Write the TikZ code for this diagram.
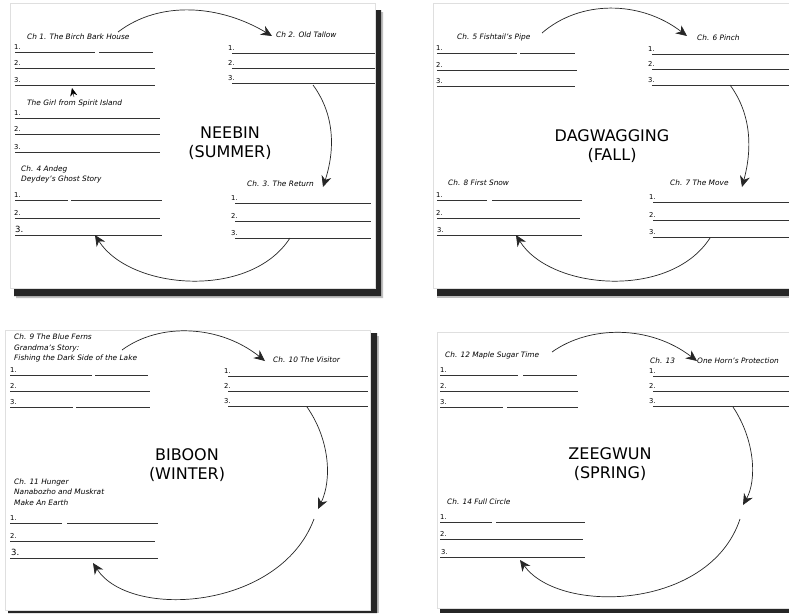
\documentclass[tikz,border=0pt]{standalone}
\usepackage{fontspec}
\setmainfont{DejaVu Sans}
\usepackage{tikz}
\usetikzlibrary{arrows.meta}

\begin{document}
\begin{tikzpicture}[x=1pt,y=-1pt,
  page/.style={fill=white,draw=gray!25,line width=0.4pt},
  pshadow/.style={fill=black!85},
  pfade/.style={fill=black!25},
  ans/.style={line width=0.9pt,black!80},
  num/.style={font=\fontsize{6.8}{6.8}\selectfont,inner sep=0pt,anchor=south west},
  chap/.style={font=\fontsize{7.4}{10.5}\selectfont\itshape,inner sep=0pt,anchor=west,align=left},
  season/.style={font=\fontsize{16}{19}\selectfont,align=center,inner sep=0pt},
  cyc/.style={line width=0.7pt,black!85,-{Stealth[length=11pt,width=10pt]}},
  tip/.style={-{Stealth[length=8pt,width=7pt]}}]
\useasboundingbox[fill=white] (0,0) rectangle (789,613);

% pages and shadows
\fill[pfade] (381,12) rectangle (383,298) (16,296) rectangle (383,298);
\fill[pshadow] (375,10) rectangle (381,296) (14,288) rectangle (381,296);
\draw[page] (10,3) rectangle (375,288);
\fill[pfade] (437,296) rectangle (789,298);
\fill[pshadow] (437,288) rectangle (789,296);
\draw[page] (433,3) rectangle (789,288);
\fill[pfade] (377,336) rectangle (379,613);
\fill[pshadow] (370,333) rectangle (377,613) (8,610) rectangle (377,613);
\draw[page] (5,330) rectangle (370,610);
\fill[pshadow] (440,608) rectangle (789,613);
\draw[page] (437,332) rectangle (789,608);

% neebin
\node[chap] (c1) at (27,37) {Ch 1. The Birch Bark House};
\node[num] (n1a) at (14,50) {1.};
\node[num] (n1b) at (14,66) {2.};
\node[num] (n1c) at (14,83) {3.};
\draw[ans] (15,52) -- (95,52) (99,52) -- (153,52) (15,68) -- (155,68) (15,85) -- (155,85);
\node[chap] (c1x) at (27,103) {The Girl from Spirit Island};
\node[num] (n2a) at (14,116) {1.};
\node[num] (n2b) at (14,132) {2.};
\node[num] (n2c) at (14,150) {3.};
\draw[ans] (15,118) -- (160,118) (15,134) -- (160,134) (15,152) -- (160,152);
\coordinate (g0) at (74,97);
\coordinate (g1) at (72,88);
\draw[tip] (g0) -- (g1);
\node[chap] (c4) at (21,174.5) {Ch. 4 Andeg\\Deydey's Ghost Story};
\node[num] (n4a) at (14,198) {1.};
\node[num] (n4b) at (14,216) {2.};
\node[num,font=\fontsize{8.5}{8.5}\selectfont] (n4c) at (15,233) {3.};
\draw[ans] (15,200) -- (68,200) (71,200) -- (162,200) (15,218) -- (160,218) (15,235) -- (162,235);
\node[season] (sum) at (230,143) {NEEBIN\\(SUMMER)};
\node[chap] (c2) at (276,35) {Ch 2. Old Tallow};
\node[num] (n5a) at (228,51) {1.};
\node[num] (n5b) at (228,66) {2.};
\node[num] (n5c) at (228,81) {3.};
\draw[ans] (232,53) -- (375,53) (232,68) -- (375,68) (232,83) -- (375,83);
\node[chap] (c3) at (247,184) {Ch. 3. The Return};
\node[num] (n6a) at (231,201) {1.};
\node[num] (n6b) at (231,219) {2.};
\node[num] (n6c) at (231,236) {3.};
\draw[ans] (235,203) -- (371,203) (235,221) -- (371,221) (235,238) -- (371,238);
\coordinate (a1) at (118,32);
\coordinate (a2) at (272,36);
\coordinate (a3) at (313,85);
\coordinate (a4) at (323,187);
\coordinate (a5) at (290,238);
\coordinate (a6) at (95,235);
\draw[cyc] (a1) .. controls (160,0) and (220,5) .. (a2);
\draw[cyc] (a3) .. controls (335,115) and (335,150) .. (a4);
\draw[cyc] (a5) .. controls (250,300) and (130,290) .. (a6);

% dagwagging
\node[chap] (c5) at (457,37) {Ch. 5 Fishtail's Pipe};
\node[num] (n7a) at (436,51) {1.};
\node[num] (n7b) at (436,68) {2.};
\node[num] (n7c) at (436,84) {3.};
\draw[ans] (437,53) -- (517,53) (520,53) -- (575,53) (437,70) -- (577,70) (437,86) -- (575,86);
\node[chap] (c6) at (697,38) {Ch. 6 Pinch};
\node[num] (n8a) at (648,52) {1.};
\node[num] (n8b) at (648,67) {2.};
\node[num] (n8c) at (648,83) {3.};
\draw[ans] (652,54) -- (789,54) (652,69) -- (789,69) (652,85) -- (789,85);
\node[season] (fal) at (612,146) {DAGWAGGING\\(FALL)};
\node[chap] (c8) at (448,183) {Ch. 8 First Snow};
\node[num] (n9a) at (436,198) {1.};
\node[num] (n9b) at (436,216) {2.};
\node[num] (n9c) at (437,233) {3.};
\draw[ans] (437,200) -- (487,200) (492,200) -- (582,200) (437,218) -- (580,218) (437,235) -- (582,235);
\node[chap] (c7) at (670,183) {Ch. 7 The Move};
\node[num] (n10a) at (649,200) {1.};
\node[num] (n10b) at (649,218) {2.};
\node[num] (n10c) at (649,235) {3.};
\draw[ans] (653,202) -- (789,202) (653,220) -- (789,220) (653,237) -- (789,237);
\coordinate (b1) at (542,33);
\coordinate (b2) at (687,36);
\coordinate (b3) at (730,85);
\coordinate (b4) at (742,187);
\coordinate (b5) at (710,238);
\coordinate (b6) at (516,235);
\draw[cyc] (b1) .. controls (580,0) and (640,0) .. (b2);
\draw[cyc] (b3) .. controls (752,115) and (752,150) .. (b4);
\draw[cyc] (b5) .. controls (670,300) and (550,290) .. (b6);

% biboon
\node[chap] (c9) at (14,348) {Ch. 9 The Blue Ferns\\Grandma's Story:\\Fishing the Dark Side of the Lake};
\node[num] (n11a) at (10,373) {1.};
\node[num] (n11b) at (10,389) {2.};
\node[num] (n11c) at (10,405) {3.};
\draw[ans] (10,375) -- (92,375) (95,375) -- (148,375) (10,391) -- (150,391) (10,407) -- (73,407) (76,407) -- (150,407);
\node[chap] (c10) at (273,360) {Ch. 10 The Visitor};
\node[num] (n12a) at (224,374) {1.};
\node[num] (n12b) at (224,389) {2.};
\node[num] (n12c) at (224,404) {3.};
\draw[ans] (228,376) -- (368,376) (228,391) -- (368,391) (228,406) -- (368,406);
\node[season] (win) at (187,465) {BIBOON\\(WINTER)};
\node[chap] (c11) at (14,492) {Ch. 11 Hunger\\Nanabozho and Muskrat\\Make An Earth};
\node[num] (n13a) at (10,521) {1.};
\node[num] (n13b) at (10,539) {2.};
\node[num,font=\fontsize{8.5}{8.5}\selectfont] (n13c) at (11,556) {3.};
\draw[ans] (10,523) -- (62,523) (67,523) -- (158,523) (10,541) -- (155,541) (10,558) -- (158,558);
\coordinate (d1) at (122,350);
\coordinate (d2) at (265,361);
\coordinate (d3) at (307,407);
\coordinate (d4) at (318,509);
\coordinate (d5) at (314,519);
\coordinate (d6) at (93,563);
\draw[cyc] (d1) .. controls (160,322) and (220,325) .. (d2);
\draw[cyc] (d3) .. controls (330,440) and (332,480) .. (d4);
\draw[cyc] (d5) .. controls (280,610) and (130,620) .. (d6);

% zeegwun
\node[chap] (c12) at (445,355) {Ch. 12 Maple Sugar Time};
\node[num] (n14a) at (440,373) {1.};
\node[num] (n14b) at (440,389) {2.};
\node[num] (n14c) at (440,405) {3.};
\draw[ans] (440,375) -- (518,375) (523,375) -- (577,375) (440,391) -- (578,391) (440,407) -- (503,407) (507,407) -- (578,407);
\node[chap] (c13) at (650,361) {Ch. 13};
\node[chap] (c13x) at (697,361) {One Horn's Protection};
\node[num] (n15a) at (649,374) {1.};
\node[num] (n15b) at (649,389) {2.};
\node[num] (n15c) at (649,404) {3.};
\draw[ans] (653,376) -- (789,376) (653,391) -- (789,391) (653,406) -- (789,406);
\node[season] (spr) at (610,464) {ZEEGWUN\\(SPRING)};
\node[chap] (c14) at (447,502) {Ch. 14 Full Circle};
\node[num] (n16a) at (440,520) {1.};
\node[num] (n16b) at (440,537) {2.};
\node[num] (n16c) at (441,555) {3.};
\draw[ans] (440,522) -- (492,522) (496,522) -- (585,522) (440,539) -- (583,539) (440,557) -- (585,557);
\coordinate (e1) at (552,352);
\coordinate (e3) at (733,407);
\coordinate (e4) at (743,505);
\coordinate (e5) at (740,519);
\coordinate (e6) at (520,560);
\draw[cyc] (e1) .. controls (590,325) and (650,325) .. (c13x.west);
\draw[cyc] (e3) .. controls (755,440) and (757,480) .. (e4);
\draw[cyc] (e5) .. controls (710,610) and (560,615) .. (e6);
\end{tikzpicture}
\end{document}
